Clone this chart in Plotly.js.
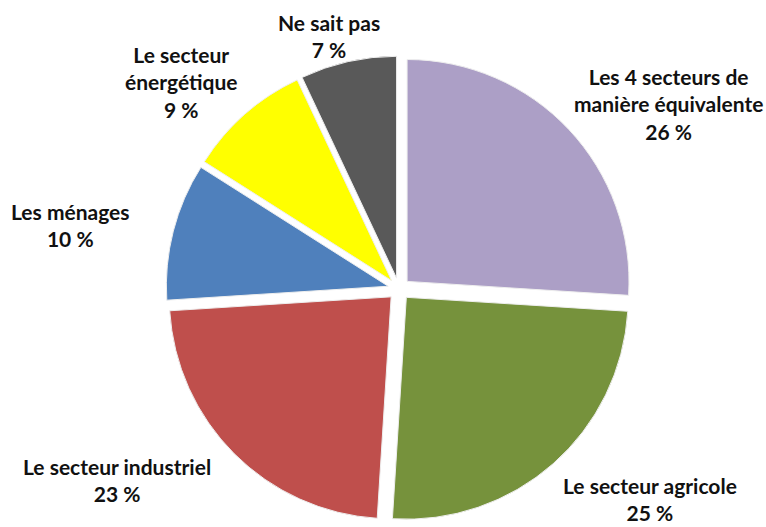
<!DOCTYPE html>
<html>
<head>
<meta charset="utf-8">
<script src="https://cdn.plot.ly/plotly-3.0.1.min.js"></script>
<style>html,body{margin:0;padding:0;background:#fff;}#chart{width:766px;height:527px;}</style>
</head>
<body>
<div id="chart"></div>
<script>
const labels = ["Les 4 secteurs de<br>manière équivalente", "Le secteur agricole", "Le secteur industriel", "Les ménages", "Le secteur<br>énergétique", "Ne sait pas"];
const values = [26, 25, 23, 10, 9, 7];
const colors = ["#AC9FC6", "#76923C", "#BF4F4C", "#4F80BC", "#FFFF00", "#595959"];

// label positions (pixels) in layout only
const labelPos = [[668, 104], [650, 499], [117, 480], [70, 225], [181, 82], [329, 36]];

const W = 766, H = 527;
const annotations = labels.map((l, i) => ({
  xref: "paper", yref: "paper",
  x: labelPos[i][0] / W, y: 1 - labelPos[i][1] / H,
  xanchor: "center", yanchor: "middle",
  text: l + "<br>" + values[i] + " %",
  showarrow: false,
  align: "center",
  font: {family: "Lato, 'Open Sans', sans-serif", size: 21, color: "#111", weight: "bold"}
}));

const cx = 399, cy = 289, ext = 233;
const data = [{
  type: "pie",
  labels: labels.map(s => s.replace("<br>", " ")),
  values: values,
  sort: false,
  direction: "clockwise",
  rotation: 0,
  pull: values.map(() => 0.05),
  textinfo: "none",
  hoverinfo: "none",
  marker: {colors: colors, line: {color: "#eeeeee", width: 1}},
  domain: {x: [(cx - ext) / W, (cx + ext) / W], y: [1 - (cy + ext) / H, 1 - (cy - ext) / H]}
}];

const layout = {
  width: W, height: H,
  margin: {l: 0, r: 0, t: 0, b: 0},
  paper_bgcolor: "#fff",
  showlegend: false,
  annotations: annotations
};

Plotly.newPlot("chart", data, layout, {displayModeBar: false, staticPlot: true});
</script>
</body>
</html>
